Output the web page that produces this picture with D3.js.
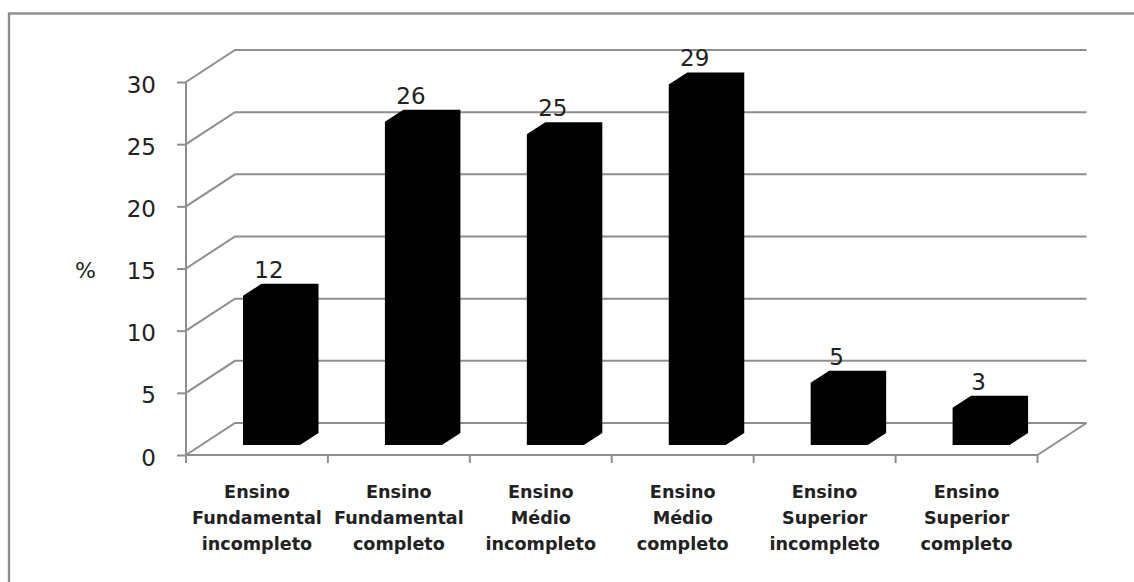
<!DOCTYPE html>
<html>
<head>
<meta charset="utf-8">
<style>
  html, body { margin: 0; padding: 0; background: #fff; }
  svg { display: block; }
  text { font-family: "DejaVu Sans", sans-serif; fill: #222; }
</style>
</head>
<body>
<svg id="chart" width="1134" height="582"></svg>
<script src="https://cdn.jsdelivr.net/npm/d3@7/dist/d3.min.js"></script>
<script>
// Share of respondents by schooling level (%)
const categories = [
  ["Ensino", "Fundamental", "incompleto"],
  ["Ensino", "Fundamental", "completo"],
  ["Ensino", "Médio", "incompleto"],
  ["Ensino", "Médio", "completo"],
  ["Ensino", "Superior", "incompleto"],
  ["Ensino", "Superior", "completo"]
];
const values = [12, 26, 25, 29, 5, 3];
const yTicks = [0, 5, 10, 15, 20, 25, 30];
const yUnit = "%";

const svg = d3.select("#chart");
const gridColor = "#8e8e8e";

// Front plane of the oblique 3D box
const x = d3.scaleBand().domain(d3.range(categories.length)).range([186, 1037.5]);
const y = d3.scaleLinear().domain([0, 30]).range([455, 82]);

// Offset from the front plane to the back wall
const wallDx = 49, wallDy = -32;
// Bar geometry within its band
const barLeft = 57, barWidth = 57, barDx = 18.5, barDy = -12, barLift = -10;

// Outer frame
svg.append("rect")
  .attr("x", 9).attr("y", 13.5)
  .attr("width", 1140).attr("height", 590)
  .attr("fill", "none").attr("stroke", gridColor).attr("stroke-width", 2.4);

// Gridlines: side wall diagonal plus back wall horizontal
const wallPath = d3.line();
svg.append("g").selectAll("path").data(yTicks).join("path")
  .attr("d", t => wallPath([
    [x.range()[0], y(t)],
    [x.range()[0] + wallDx, y(t) + wallDy],
    [x.range()[1] + wallDx, y(t) + wallDy]
  ]))
  .attr("fill", "none").attr("stroke", gridColor).attr("stroke-width", 2);

// Floor edge on the right
svg.append("path")
  .attr("d", wallPath([
    [x.range()[1], y(0)],
    [x.range()[1] + wallDx, y(0) + wallDy]
  ]))
  .attr("fill", "none").attr("stroke", gridColor).attr("stroke-width", 2);

// Value axis
const yAxis = svg.append("g")
  .attr("transform", `translate(${x.range()[0]},0)`)
  .call(d3.axisLeft(y).tickValues(yTicks).tickSize(9).tickPadding(21).tickFormat(d3.format("d")));
yAxis.selectAll("path, line").attr("stroke", gridColor).attr("stroke-width", 2);
yAxis.select("path").attr("d", `M0,${y(30)}V${y(0)}`);
yAxis.selectAll("text").attr("font-size", 23).attr("fill", "#222").attr("dy", 10);

// Category axis
const xAxis = svg.append("g").attr("transform", `translate(0,${y(0)})`);
xAxis.append("line")
  .attr("x1", x.range()[0]).attr("x2", x.range()[1])
  .attr("stroke", gridColor).attr("stroke-width", 2.2);
xAxis.selectAll("line.tick")
  .data(d3.range(categories.length + 1)).join("line").attr("class", "tick")
  .attr("x1", i => x.range()[0] + i * x.step())
  .attr("x2", i => x.range()[0] + i * x.step())
  .attr("y1", 0).attr("y2", 8)
  .attr("stroke", gridColor).attr("stroke-width", 2);

// Category labels, one text line per row
const catLabels = svg.append("g").selectAll("text").data(categories).join("text")
  .attr("text-anchor", "middle")
  .attr("font-size", 17.6).attr("font-weight", 700).attr("fill", "#111");
categories.forEach((rows, c) => {
  d3.select(catLabels.nodes()[c]).selectAll("tspan").data(rows).join("tspan")
    .attr("x", x(c) + x.bandwidth() / 2)
    .attr("y", (d, i) => 498 + i * 26)
    .text(d => d);
});

// Bars: a single black silhouette of front, top and side faces
const baseY = y(0) + barLift;
const barPath = (v, i) => {
  const l = x(i) + barLeft, r = l + barWidth, top = baseY - (y(0) - y(v));
  return wallPath([
    [l, baseY], [l, top], [l + barDx, top + barDy], [r + barDx, top + barDy],
    [r + barDx, baseY + barDy], [r, baseY]
  ]) + "Z";
};
svg.append("g").selectAll("path").data(values).join("path")
  .attr("d", barPath)
  .attr("fill", "#000");

// Value labels above each bar
svg.append("g").selectAll("text").data(values).join("text")
  .attr("x", (v, i) => x(i) + barLeft + 26)
  .attr("y", v => baseY - (y(0) - y(v)) + barDy - 6)
  .attr("text-anchor", "middle")
  .attr("font-size", 23)
  .text(d => d);

// Value axis unit
svg.append("text")
  .attr("x", 85.5).attr("y", 278)
  .attr("text-anchor", "middle")
  .attr("font-size", 22)
  .text(yUnit);
</script>
</body>
</html>
